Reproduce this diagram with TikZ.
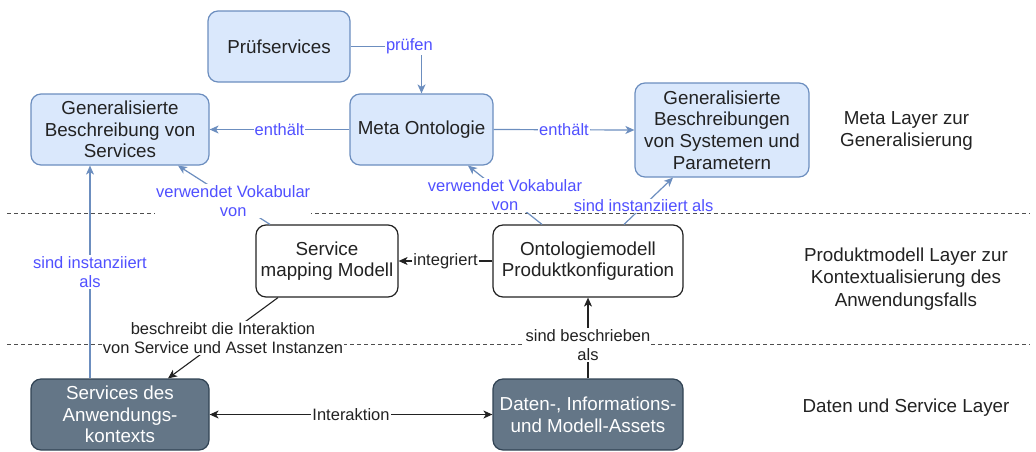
\documentclass[tikz,border=0pt]{standalone}
\usepackage{fontspec}
\setmainfont{Liberation Sans}
\usepackage{tikz}
\usetikzlibrary{arrows.meta, positioning}
\definecolor{MetaFill}{HTML}{DAE8FC}
\definecolor{MetaLine}{HTML}{6C8EBF}
\definecolor{AssetFill}{HTML}{647687}
\definecolor{AssetLine}{HTML}{314354}
\definecolor{LabelBlue}{HTML}{5050FF}
\definecolor{InkGray}{HTML}{222222}

\tikzset{
  basebox/.style={rounded corners=10pt, line width=1.2pt, align=center, inner sep=0pt,
    font=\fontsize{18.8}{21.7}\selectfont},
  metabox/.style={basebox, draw=MetaLine, fill=MetaFill, text=InkGray},
  modelbox/.style={basebox, draw=InkGray, fill=white, text=InkGray},
  assetbox/.style={basebox, draw=AssetLine, fill=AssetFill, text=white},
  metaarrow/.style={draw=MetaLine, line width=1.2pt, -{Stealth[length=9pt,width=8pt,inset=2.5pt]}},
  modelarrow/.style={draw=InkGray, line width=1.1pt, -{Stealth[length=9pt,width=8pt,inset=2.5pt]}},
  bluelabel/.style={fill=white, inner sep=1pt, align=center, text=LabelBlue,
    font=\fontsize{16.5}{19.5}\selectfont},
  blacklabel/.style={bluelabel, text=InkGray},
  layertext/.style={align=center, text=InkGray, font=\fontsize{18.8}{22.5}\selectfont},
  layerline/.style={draw=InkGray!80, line width=1pt, dash pattern=on 4pt off 3pt},
}

\begin{document}
\begin{tikzpicture}[x=1pt, y=-1pt]
  \useasboundingbox (0,0) rectangle (1036,451);

  % layer borders
  \draw[layerline] (7,213) -- (1030,213);
  \draw[layerline] (7,344) -- (1030,344);

  % meta layer
  \node[metabox, minimum width=142pt, minimum height=71pt] (pruef) at (279,46.5) {Prüfservices};
  \node[metabox, minimum width=178pt, minimum height=71pt] (gendesc) at (120,129.5)
    {Generalisierte\\Beschreibung von\\Services};
  \node[metabox, minimum width=143pt, minimum height=71pt] (meta) at (421.5,129.5) {Meta Ontologie};
  \node[metabox, minimum width=174pt, minimum height=94pt] (gensys) at (722,130)
    {Generalisierte\\Beschreibungen\\von Systemen und\\Parametern};

  % produktmodell layer
  \node[modelbox, minimum width=142pt, minimum height=72pt] (mapping) at (327,261)
    {Service\\mapping Modell};
  \node[modelbox, minimum width=190pt, minimum height=72pt] (onto) at (588,261)
    {Ontologiemodell\\Produktkonfiguration};

  % daten layer
  \node[assetbox, minimum width=178pt, minimum height=71pt] (services) at (120,414.5)
    {Services des\\Anwendungs-\\kontexts};
  \node[assetbox, minimum width=190pt, minimum height=71pt] (assets) at (588,414.5)
    {Daten-, Informations-\\und Modell-Assets};

  % layer names
  \node[layertext] (metaname) at (906.5,131) {Meta Layer zur\\Generalisierung};
  \node[layertext] (modelname) at (906,279) {Produktmodell Layer zur\\Kontextualisierung des\\Anwendungsfalls};
  \node[layertext] (dataname) at (906,408) {Daten und Service Layer};

  % connectors
  \draw[metaarrow] (pruef.east) -| node[bluelabel, pos=0.415] {prüfen} (meta.north);
  \draw[metaarrow] (meta.west) -- node[bluelabel] {enthält} (gendesc.east);
  \draw[metaarrow] (meta.east) -- node[bluelabel] {enthält} (gensys.west);
  \draw[metaarrow] ([xshift=-57pt]mapping.north) -- node[bluelabel, pos=0.4]
    {verwendet Vokabular\\von} ([xshift=58pt]gendesc.south);
  \draw[metaarrow] ([xshift=-46pt]onto.north) -- node[bluelabel, pos=0.5]
    {verwendet Vokabular\\von} ([xshift=46.5pt]meta.south);
  \draw[metaarrow] ([xshift=36pt]onto.north) -- node[bluelabel, pos=0.4]
    {sind instanziiert als} ([xshift=-49pt]gensys.south);
  \draw[metaarrow] ([xshift=-30pt]services.north) -- node[bluelabel]
    {sind instanziiert\\als} ([xshift=-30pt]gendesc.south);

  \draw[modelarrow] (onto.west) -- node[blacklabel] {integriert} (mapping.east);
  \draw[modelarrow] ([xshift=-49pt]mapping.south) -- node[blacklabel]
    {beschreibt die Interaktion\\von Service und Asset Instanzen} ([xshift=48pt]services.north);
  \draw[modelarrow] (assets.north) -- node[blacklabel, pos=0.41]
    {sind beschrieben\\als} (onto.south);
  \draw[modelarrow, {Stealth[length=9pt,width=8pt,inset=2.5pt]}-{Stealth[length=9pt,width=8pt,inset=2.5pt]}]
    (services.east) -- node[blacklabel] {Interaktion} (assets.west);
\end{tikzpicture}
\end{document}
